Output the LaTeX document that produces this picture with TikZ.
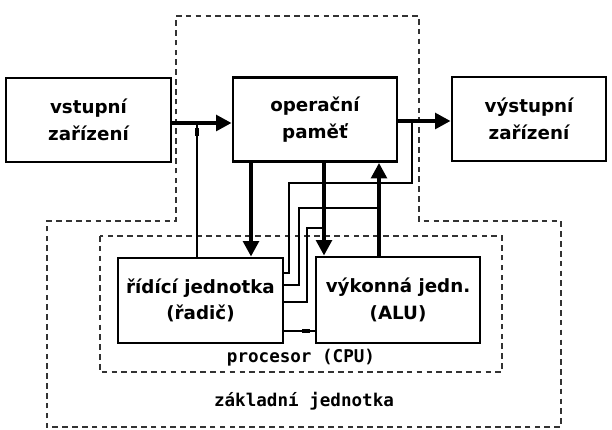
\documentclass[tikz,border=0pt]{standalone}
\usepackage{fontspec}
\setmainfont{DejaVu Sans}
\setmonofont{DejaVu Sans Mono}
\usetikzlibrary{arrows.meta,positioning}
\tikzset{>={Triangle[width=11pt,length=11pt]}}
\tikzset{
  unit/.style={draw,line width=2pt,minimum width=4.1cm,minimum height=2.1cm,
    align=center,font=\bfseries\fontsize{13}{19}\selectfont},
  bus/.style={line width=2.8pt,->},
  wire/.style={line width=0.8pt},
  frame/.style={line width=0.9pt,dash pattern=on 4pt off 3pt,black!80},
  tag/.style={font=\ttfamily\bfseries\fontsize{12.5}{14}\selectfont}
}

\begin{document}
\begin{tikzpicture}
        \useasboundingbox (0,0) rectangle (15.3,10.75);
        % dashed frames
        \draw[frame] (4.4,10.35) -- (10.475,10.35) -- (10.475,5.225) -- (14.025,5.225)
          -- (14.025,0.075) -- (1.175,0.075) -- (1.175,5.225) -- (4.4,5.225) -- cycle;
        \draw[frame] (2.5,4.85) rectangle (12.55,1.45);
        \node[tag] (cpu) at (7.525,1.8) {procesor (CPU)};
        \node[tag] (zj) at (7.6,0.725) {základní jednotka};
        % units
        \node[unit,minimum width=4.125cm] (vst) at (2.2125,7.75) {vstupní\\zařízení};
        \node[unit] (mem) at (7.875,7.7625) {operační\\paměť};
        \node[unit,minimum width=3.85cm] (vyst) at (13.225,7.775) {výstupní\\zařízení};
        \node[unit,minimum width=4.125cm,minimum height=2.125cm] (rid) at (5.0125,3.2375) {řídící jednotka\\(řadič)};
        \node[unit,minimum height=2.15cm] (alu) at (9.95,3.25) {výkonná jedn.\\(ALU)};
        % rows and columns of the buses
        \coordinate (rowin) at (0,7.675);
        \coordinate (rowout) at (0,7.725);
        \coordinate (dn1) at (6.275,0);
        \coordinate (dn2) at (8.1,0);
        \coordinate (up) at (9.475,0);
        \coordinate (ctl) at (4.925,0);
        \coordinate (r1) at (0,3.925);
        \coordinate (r2) at (0,3.625);
        \coordinate (r3) at (0,3.2);
        \coordinate (r4) at (0,2.475);
        % data buses
        \draw[bus] (vst.east |- rowin) -- (mem.west |- rowin);
        \draw[bus] (mem.east |- rowout) -- (vyst.west |- rowout);
        \draw[bus] (mem.south -| dn1) -- (rid.north -| dn1);
        \draw[bus] (mem.south -| dn2) -- (alu.north -| dn2);
        \draw[bus] (alu.north -| up) -- (mem.south -| up);
        % control wires
        \draw[wire] (rid.north -| ctl) -- (ctl |- rowin);
        \draw[wire,-{Rectangle[width=2.5pt,length=6pt]}] (rid.north -| ctl) -- (4.925,7.55);
        \draw[wire] (10.3,7.725) -- (10.3,6.175) -- (7.225,6.175) -- (7.225,3.925) -- (rid.east |- r1);
        \draw[wire] (9.475,5.55) -- (7.475,5.55) -- (7.475,3.625) -- (rid.east |- r2);
        \draw[wire] (8.1,5.05) -- (7.675,5.05) -- (7.675,3.2) -- (rid.east |- r3);
        \draw[wire] (rid.east |- r4) -- (alu.west |- r4);
        \draw[wire,-{Rectangle[width=2.5pt,length=6pt]}] (rid.east |- r4) -- (7.75,2.475);
      \end{tikzpicture}
\end{document}
